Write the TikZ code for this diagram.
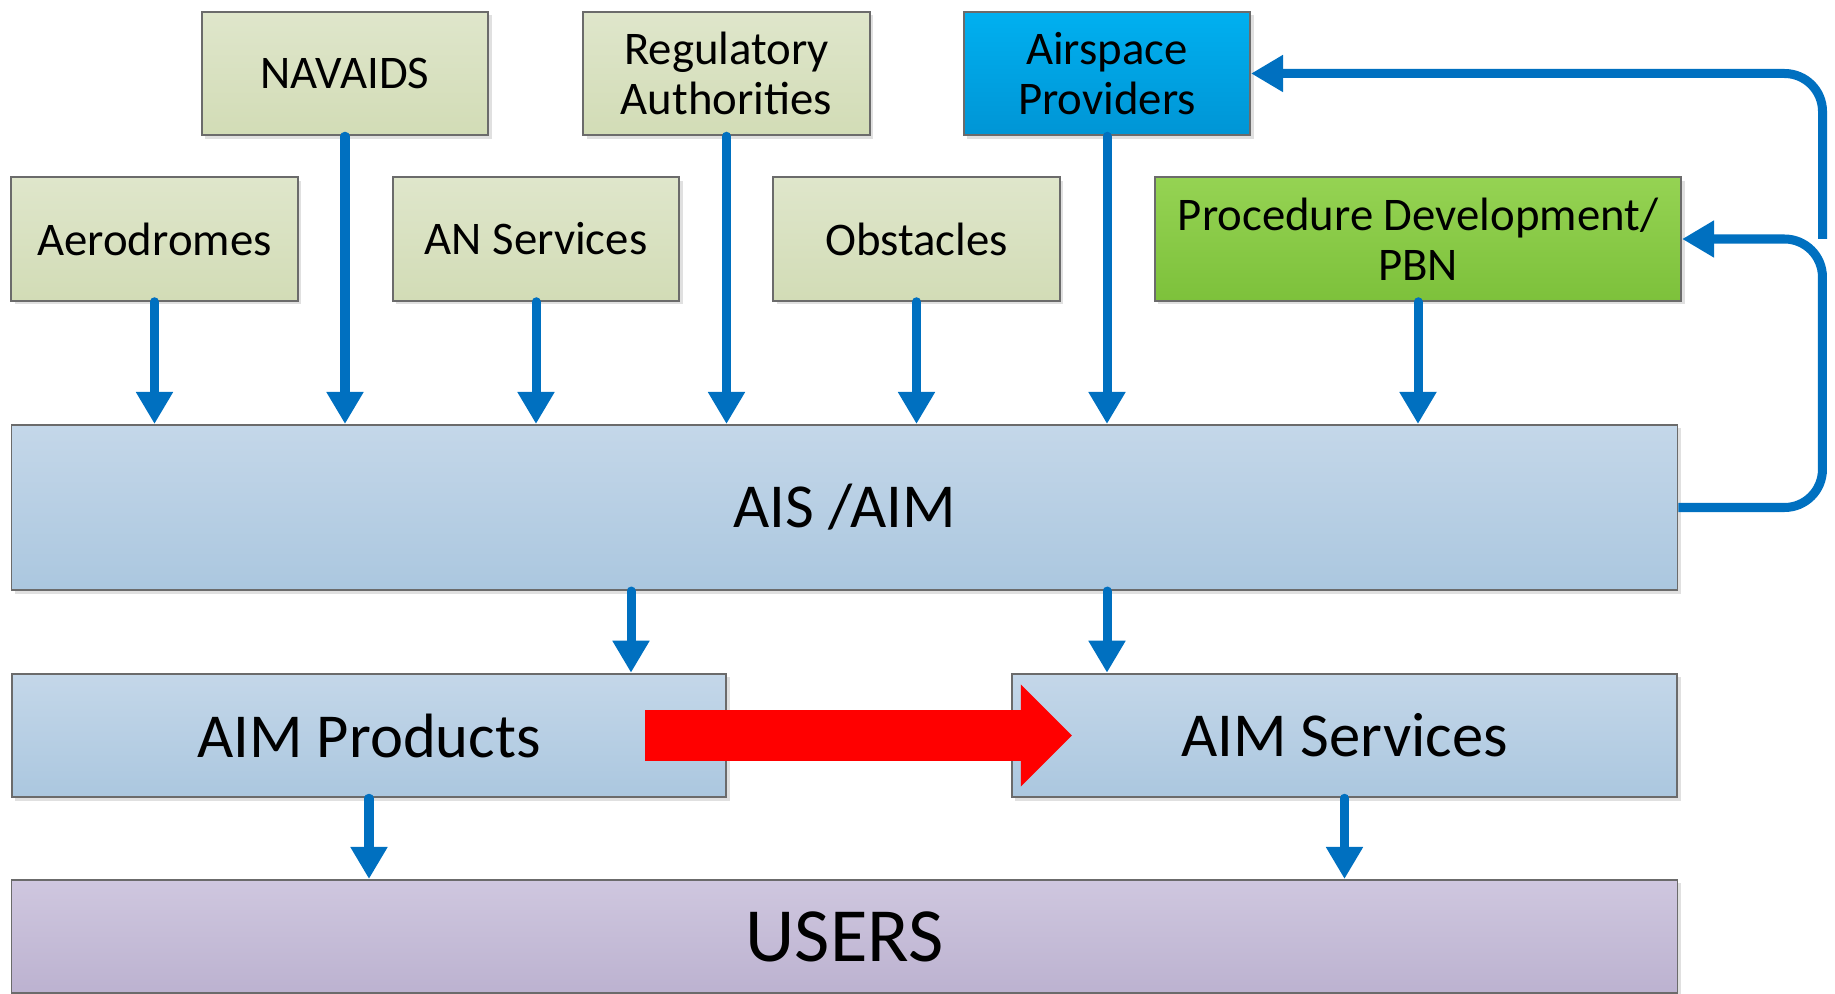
\documentclass[tikz,border=0pt]{standalone}
\usepackage{fontspec}
\setmainfont{Carlito}
\usetikzlibrary{arrows.meta,shadows}

\definecolor{greentop}{HTML}{DFE6CB}
\definecolor{greenbot}{HTML}{D2DCB6}
\definecolor{skytop}{HTML}{00B0F0}
\definecolor{skybot}{HTML}{0095D5}
\definecolor{limetop}{HTML}{95D353}
\definecolor{limebot}{HTML}{7DC13B}
\definecolor{aistop}{HTML}{C4D7E9}
\definecolor{aisbot}{HTML}{ABC7DF}
\definecolor{usertop}{HTML}{CFC7DF}
\definecolor{userbot}{HTML}{BCB2D0}
\definecolor{flowblue}{HTML}{0070C0}
\definecolor{boxline}{HTML}{6B6B6B}

\tikzset{
  box/.style={draw=boxline, line width=0.55pt, inner sep=0pt, align=center,
    drop shadow={shadow xshift=0.035cm, shadow yshift=-0.035cm, fill=black, opacity=0.12}},
  srcbox/.style={box, minimum width=2.86cm, minimum height=1.235cm,
    top color=greentop, bottom color=greenbot, font=\fontsize{13.3}{14.2}\selectfont},
  aimbox/.style={box, minimum height=1.235cm, top color=aistop, bottom color=aisbot,
    font=\fontsize{17.8}{20}\selectfont},
  flow/.style={draw=flowblue, line width=0.09cm, line cap=round,
    -{Triangle[length=0.32cm,width=0.35cm]}},
  feedback/.style={flow, line cap=butt, rounded corners=0.38cm},
  bigarrow/.style={draw=red, line width=0.51cm,
    -{Triangle[length=0.51cm,width=1.02cm,line width=0pt]}}
}

\begin{document}
\begin{tikzpicture}[x=0.01cm, y=-0.01cm]
\useasboundingbox (0,0) rectangle (1835,994);

% data sources
\node[srcbox] (nav) at (345,73.5) {NAVAIDS};
\node[srcbox] (reg) at (726.5,73.5) {Regulatory\\Authorities};
\node[srcbox, top color=skytop, bottom color=skybot] (air) at (1107,73.5) {Airspace\\Providers};
\node[srcbox] (aero) at (154.5,239) {Aerodromes};
\node[srcbox] (ans) at (536,239) {AN Services};
\node[srcbox] (obs) at (916.5,239) {Obstacles};
\node[srcbox, minimum width=5.26cm, top color=limetop, bottom color=limebot] (proc) at (1418,239) {Procedure Development/\\PBN};

% AIS / AIM and outputs
\node[aimbox, minimum width=16.65cm, minimum height=1.65cm] (ais) at (844.5,507.5) {AIS /AIM};
\node[aimbox, minimum width=7.14cm] (prod) at (369,735.5) {AIM Products};
\node[aimbox, minimum width=6.65cm] (serv) at (1344.5,735.5) {AIM Services};
\node[box, minimum width=16.65cm, minimum height=1.13cm, top color=usertop, bottom color=userbot,
  font=\fontsize{21.8}{24}\selectfont] (users) at (844.5,936.5) {USERS};

% inputs to AIS
\draw[flow] (aero.south) -- (aero.south |- ais.north);
\draw[flow] (nav.south) -- (nav.south |- ais.north);
\draw[flow] (ans.south) -- (ans.south |- ais.north);
\draw[flow] (reg.south) -- (reg.south |- ais.north);
\draw[flow] (obs.south) -- (obs.south |- ais.north);
\draw[flow] (air.south) -- (air.south |- ais.north);
\draw[flow] (proc.south) -- (proc.south |- ais.north);

% feedback
\draw[feedback] (ais.east) -- ++(144,0) |- (proc.east);
\coordinate (join) at ([xshift=1.44cm]ais.east |- proc.east);
\draw[feedback] (join) |- (air.east);

% outputs
\draw[flow] (631,0 |- ais.south) -- (631,0 |- prod.north);
\draw[flow] (air.south |- ais.south) -- (air.south |- serv.north);
\draw[flow] (prod.south) -- (prod.south |- users.north);
\draw[flow] (serv.south) -- (serv.south |- users.north);

% products to services
\draw[bigarrow] ([xshift=-0.82cm]prod.east) -- ([xshift=0.61cm]serv.west);

\end{tikzpicture}
\end{document}
